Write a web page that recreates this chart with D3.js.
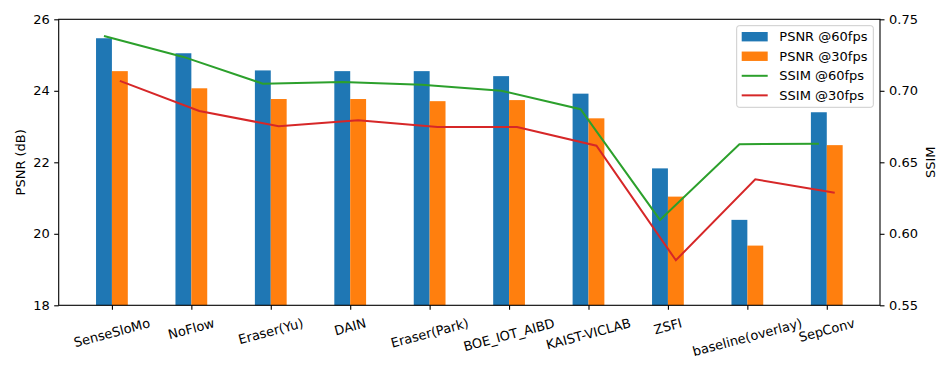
<!DOCTYPE html>
<html>
<head>
<meta charset="utf-8">
<script src="https://cdn.jsdelivr.net/npm/d3@7"></script>
<style>
  body { margin: 0; background: #fff; }
  text { font-family: "DejaVu Sans", sans-serif; fill: #000; }
</style>
</head>
<body>
<div id="chart-area"></div>
<script>
// values
var methods = ["SenseSloMo", "NoFlow", "Eraser(Yu)", "DAIN", "Eraser(Park)", "BOE_IOT_AIBD", "KAIST-VICLAB", "ZSFI", "baseline(overlay)", "SepConv"];
var psnr60 = [25.47, 25.05, 24.57, 24.55, 24.55, 24.41, 23.92, 21.83, 20.39, 23.40];
var psnr30 = [24.55, 24.07, 23.77, 23.77, 23.71, 23.74, 23.23, 21.04, 19.67, 22.48];
var ssim60 = [0.7383, 0.7237, 0.7050, 0.7062, 0.7043, 0.7001, 0.6871, 0.6097, 0.6626, 0.6630];
var ssim30 = [0.7069, 0.6859, 0.6752, 0.6794, 0.6747, 0.6747, 0.6616, 0.5815, 0.6381, 0.6287];
var psnrTicks = [18, 20, 22, 24, 26];
var ssimTicks = [0.55, 0.60, 0.65, 0.70, 0.75];
var legendNames = ["PSNR @60fps", "PSNR @30fps", "SSIM @60fps", "SSIM @30fps"];

var blue = "#1f77b4", orange = "#ff7f0e", green = "#2ca02c", red = "#d62728";
var fs = 13;

var W = 952, H = 381;
var margin = {left: 58.7, right: 72, top: 19.3, bottom: 75.7};
var width = W - margin.left - margin.right;
var height = H - margin.top - margin.bottom;
var barW = 0.2;

var svg = d3.select("#chart-area").append("svg")
    .attr("width", W)
    .attr("height", H);

var g = svg.append("g")
    .attr("transform", "translate(" + margin.left + "," + margin.top + ")");

var x = d3.scaleLinear().domain([-0.67, 9.67]).range([0, width]);
var y = d3.scaleLinear().domain([18, 26]).range([height, 0]);
var y2 = d3.scaleLinear().domain([0.55, 0.75]).range([height, 0]);

// bars
g.selectAll("rect.b60").data(psnr60).enter().append("rect")
    .attr("class", "b60")
    .attr("x", function(d, i) { return x(i - barW); })
    .attr("width", x(barW) - x(0))
    .attr("y", function(d) { return y(d); })
    .attr("height", function(d) { return height - y(d); })
    .attr("fill", blue);

g.selectAll("rect.b30").data(psnr30).enter().append("rect")
    .attr("class", "b30")
    .attr("x", function(d, i) { return x(i); })
    .attr("width", x(barW) - x(0))
    .attr("y", function(d) { return y(d); })
    .attr("height", function(d) { return height - y(d); })
    .attr("fill", orange);

// lines on the twin axis
var line60 = d3.line()
    .x(function(d, i) { return x(i - barW / 2); })
    .y(function(d) { return y2(d); });
var line30 = d3.line()
    .x(function(d, i) { return x(i + barW / 2); })
    .y(function(d) { return y2(d); });

g.append("path").datum(ssim60)
    .attr("d", line60)
    .attr("fill", "none")
    .attr("stroke", green)
    .attr("stroke-width", 2);
g.append("path").datum(ssim30)
    .attr("d", line30)
    .attr("fill", "none")
    .attr("stroke", red)
    .attr("stroke-width", 2);

// left axis
var yAxis = d3.axisLeft(y).tickValues(psnrTicks).tickSize(4.5).tickPadding(4.5)
    .tickFormat(d3.format("d"));
g.append("g").call(yAxis)
    .call(function(s) {
        s.select(".domain").remove();
        s.selectAll("line").attr("stroke", "#000").attr("stroke-width", 1.1);
        s.selectAll("text").attr("font-size", fs + "px").attr("font-family", "DejaVu Sans");
    });

// right axis
var y2Axis = d3.axisRight(y2).tickValues(ssimTicks).tickSize(4.5).tickPadding(4.5)
    .tickFormat(d3.format(".2f"));
g.append("g").attr("transform", "translate(" + width + ",0)").call(y2Axis)
    .call(function(s) {
        s.select(".domain").remove();
        s.selectAll("line").attr("stroke", "#000").attr("stroke-width", 1.1);
        s.selectAll("text").attr("font-size", fs + "px").attr("font-family", "DejaVu Sans");
    });

// bottom ticks
var xAxis = d3.axisBottom(x).tickValues(d3.range(methods.length)).tickSize(4.5).tickFormat("");
g.append("g").attr("transform", "translate(0," + height + ")").call(xAxis)
    .call(function(s) {
        s.select(".domain").remove();
        s.selectAll("line").attr("stroke", "#000").attr("stroke-width", 1.1);
    });

// rotated category labels (bbox top aligned under the tick, centred)
var ang = 15 * Math.PI / 180;
var labelTop = height + 10.5;
methods.forEach(function(m, i) {
    var t = g.append("text")
        .attr("font-size", fs + "px")
        .attr("text-anchor", "middle")
        .attr("dominant-baseline", "central")
        .text(m);
    var w = t.node().getComputedTextLength();
    var h = fs * 1.1;
    var bh = w * Math.sin(ang) + h * Math.cos(ang);
    var cx = x(i), cy = labelTop + bh / 2;
    t.attr("x", cx).attr("y", cy)
        .attr("transform", "rotate(-15," + cx + "," + cy + ")");
});

// frame
g.append("rect")
    .attr("width", width).attr("height", height)
    .attr("fill", "none").attr("stroke", "#000").attr("stroke-width", 1.1);

// axis titles
g.append("text")
    .attr("transform", "translate(" + (20.7 - margin.left) + "," + (height / 2) + ") rotate(-90)")
    .attr("text-anchor", "middle")
    .attr("dominant-baseline", "central")
    .attr("font-size", fs + "px")
    .text("PSNR (dB)");
g.append("text")
    .attr("transform", "translate(" + (930 - margin.left) + "," + (height / 2) + ") rotate(-90)")
    .attr("text-anchor", "middle")
    .attr("dominant-baseline", "central")
    .attr("font-size", fs + "px")
    .text("SSIM");

// legend
var leg = svg.append("g").attr("transform", "translate(736.7,25.7)");
leg.append("rect")
    .attr("width", 136.6).attr("height", 81.6)
    .attr("rx", 2.5)
    .attr("fill", "#fff").attr("fill-opacity", 0.8)
    .attr("stroke", "#cccccc").attr("stroke-width", 1);
var legColors = [blue, orange, green, red];
legendNames.forEach(function(n, i) {
    var cy = 11 + i * 19.55;
    if (i < 2) {
        leg.append("rect")
            .attr("x", 5).attr("y", cy - 4.7)
            .attr("width", 26).attr("height", 9.4)
            .attr("fill", legColors[i]);
    } else {
        leg.append("line")
            .attr("x1", 5).attr("x2", 31)
            .attr("y1", cy).attr("y2", cy)
            .attr("stroke", legColors[i]).attr("stroke-width", 2);
    }
    leg.append("text")
        .attr("x", 42.6).attr("y", cy)
        .attr("dominant-baseline", "central")
        .attr("font-size", fs + "px")
        .text(n);
});
</script>
</body>
</html>
